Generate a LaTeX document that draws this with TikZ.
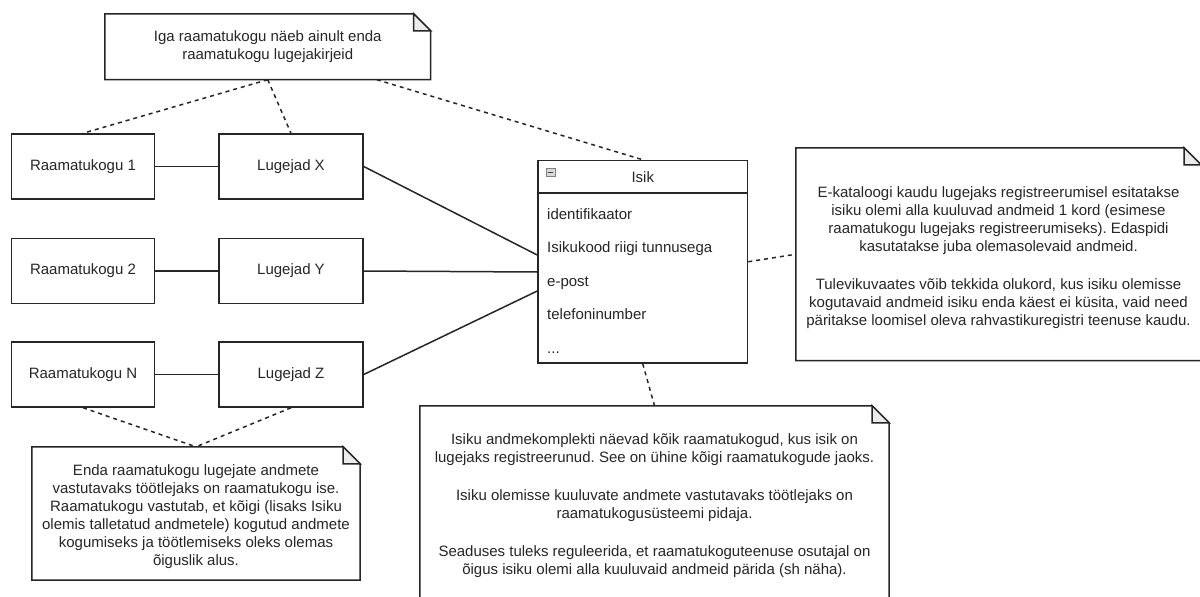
\documentclass[tikz,border=0pt]{standalone}
\usepackage{fontspec}
\setmainfont{Liberation Sans}
\usepackage{tikz}
\usetikzlibrary{positioning}
\frenchspacing

\definecolor{ink}{HTML}{262626}
\definecolor{foldgray}{HTML}{EBEBEB}

\tikzset{
  line/.style={draw=ink, line width=1.5pt},
  dashline/.style={line, dash pattern=on 4pt off 4pt},
  box/.style={line, fill=white, inner sep=0, minimum width=144, minimum height=65, text=ink},
  note/.style={inner sep=0, align=center, text=ink},
  attr/.style={anchor=base west, inner sep=0, text=ink}
}

% outline of a note with the folded corner
\newcommand{\foldnote}[1]{%
  \draw[line, fill=white] (#1.south west) -- (#1.north west) -- ([xshift=-17pt]#1.north east)
    -- ([yshift=-17pt]#1.north east) -- (#1.south east) -- cycle;
  \filldraw[line, fill=foldgray] ([xshift=-17pt]#1.north east) -- ([xshift=-17pt,yshift=-17pt]#1.north east)
    -- ([yshift=-17pt]#1.north east) -- cycle;
}

\begin{document}
\begin{tikzpicture}[x=1pt, y=-1pt, font=\fontsize{15}{18}\selectfont]
\useasboundingbox[fill=white] (0,0) rectangle (1200,597);

\node[note, minimum width=325.5, minimum height=65.5] (notetop) at (267.75,46.75) {};
\foldnote{notetop}
\node[note] at (notetop) {Iga raamatukogu näeb ainult enda\\raamatukogu lugejakirjeid};

        \node[box, minimum width=143](rk1) at (83,166.5) {Raamatukogu 1};
        \node[box](lx) at (291,166.5) {Lugejad X};
        \node[box, minimum width=143](rk2) at (83,271) {Raamatukogu 2};
        \node[box](ly) at (291,271) {Lugejad Y};
        \node[box, minimum width=143](rkn) at (83,374.5) {Raamatukogu N};
        \node[box](lz) at (291,374.5) {Lugejad Z};

\node[box, minimum width=209.5, minimum height=202.5](isik) at (642.75,261.75) {};
\node[box, minimum width=209.5, minimum height=32.5, anchor=north](isikhead) at (isik.north) {Isik};
\node[draw=gray, fill=gray!30, line width=0.8pt, minimum width=9, minimum height=8, inner sep=0](minus) at (550.5,172.5) {};
\draw[gray!50!black, line width=1.2pt] ([xshift=2pt]minus.west) -- ([xshift=-2pt]minus.east);
                \node[attr](a1) at (547,219) {identifikaator};
                \node[attr](a2) at (547,252.5) {Isikukood riigi tunnusega};
                \node[attr](a3) at (547,286) {e-post};
                \node[attr](a4) at (547,319.5) {telefoninumber};
                \node[attr](a5) at (547,353) {...};

\node[note, minimum width=405, minimum height=212.5] (rnote) at (998.5,254.25) {};
\foldnote{rnote}
\node[note] at ([yshift=-3pt]rnote.center) {E-kataloogi kaudu lugejaks registreerumisel esitatakse\\
  isiku olemi alla kuuluvad andmeid 1 kord (esimese\\
  raamatukogu lugejaks registreerumiseks). Edaspidi\\
  kasutatakse juba olemasolevaid andmeid.\\[20pt]
  Tulevikuvaates võib tekkida olukord, kus isiku olemisse\\
  kogutavaid andmeid isiku enda käest ei küsita, vaid need\\
  päritakse loomisel oleva rahvastikuregistri teenuse kaudu.};

\node[note, minimum width=469, minimum height=198] (mnote) at (654.5,505) {};
\foldnote{mnote}
\node[note] at ([yshift=-1pt]mnote.center) {Isiku andmekomplekti näevad kõik raamatukogud, kus isik on\\
  lugejaks registreerunud. See on ühine kõigi raamatukogude jaoks.\\[20pt]
  Isiku olemisse kuuluvate andmete vastutavaks töötlejaks on\\
  raamatukogusüsteemi pidaja.\\[20pt]
  Seaduses tuleks reguleerida, et raamatukoguteenuse osutajal on\\
  õigus isiku olemi alla kuuluvaid andmeid pärida (sh näha).};

\node[note, minimum width=328, minimum height=133] (lnote) at (196,513.5) {};
\foldnote{lnote}
\node[note] at ([yshift=-3pt]lnote.center) {Enda raamatukogu lugejate andmete\\
  vastutavaks töötlejaks on raamatukogu ise.\\
  Raamatukogu vastutab, et kõigi (lisaks Isiku\\
  olemis talletatud andmetele) kogutud andmete\\
  kogumiseks ja töötlemiseks oleks olemas\\
  õiguslik alus.};

\draw[line] (rk1) -- (lx);
\draw[line] (rk2) -- (ly);
\draw[line] (rkn) -- (lz);
\draw[line] (lx.east) -- ([yshift=6.75pt]isik.west);
\draw[line] (ly.east) -- ([yshift=-10.25pt]isik.west);
\draw[line] (lz.east) -- ([yshift=-29.25pt]isik.west);

\draw[dashline] (notetop.south) -- (rk1.north);
\draw[dashline] (notetop.south) -- (lx.north);
\draw[dashline] ([xshift=109pt]notetop.south) -- (isikhead.north);
\draw[dashline] (isik.east) -- (rnote.west);
\draw[dashline] (isik.south) -- (mnote.north);
\draw[dashline] (rkn.south) -- (lnote.north);
\draw[dashline] (lz.south) -- (lnote.north);
        \end{tikzpicture}
\end{document}
